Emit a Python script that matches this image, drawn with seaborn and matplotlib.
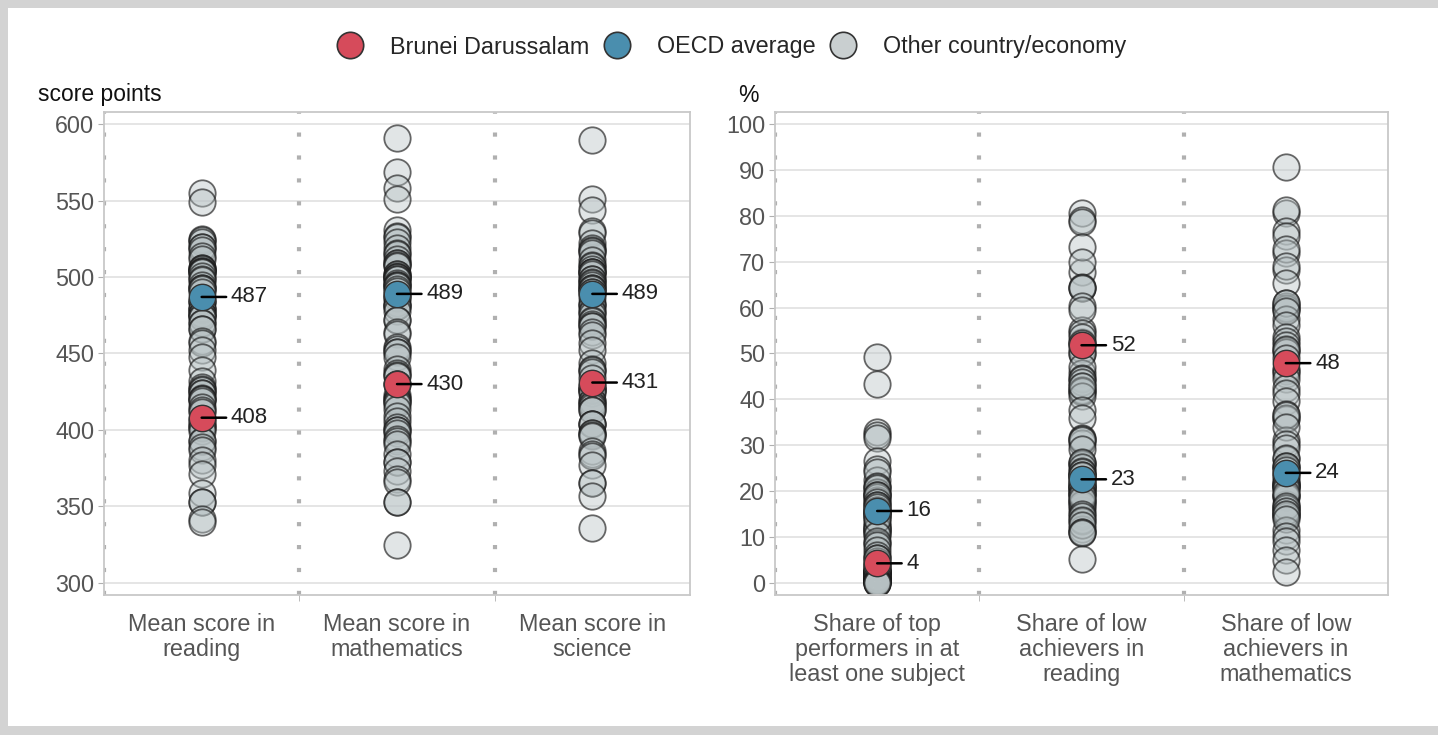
import matplotlib
matplotlib.use("Agg")
import matplotlib.pyplot as plt
from matplotlib.lines import Line2D
from matplotlib.patches import Rectangle
import seaborn as sns
import pandas as pd

# categories
score_cats = ['Mean score in\nreading', 'Mean score in\nmathematics', 'Mean score in\nscience']
share_cats = ['Share of top\nperformers in at\nleast one subject', 'Share of low\nachievers in\nreading',
              'Share of low\nachievers in\nmathematics']

# other countries / economies
reading = [555, 549, 525, 524, 523, 520, 520, 518, 514, 512, 506, 506, 505, 504, 504, 503, 503, 501, 499, 498,
           495, 493, 493, 492, 490, 485, 484, 484, 479, 479, 479, 476, 476, 476, 474, 474, 470, 470, 466, 466,
           458, 457, 452, 448, 439, 432, 428, 427, 426, 424, 424, 421, 420, 420, 419, 415, 413, 412, 407, 405,
           403, 402, 401, 399, 393, 393, 389, 387, 380, 377, 371, 359, 353, 353, 342, 340]
maths = [591, 569, 558, 551, 531, 527, 526, 523, 519, 516, 515, 512, 509, 509, 508, 507, 502, 502, 501, 500,
         500, 499, 499, 496, 495, 495, 494, 492, 491, 488, 487, 486, 483, 481, 481, 481, 478, 472, 472, 464,
         463, 454, 453, 451, 451, 448, 440, 437, 436, 435, 430, 430, 423, 421, 420, 419, 418, 417, 414, 409,
         406, 402, 400, 400, 398, 394, 393, 391, 384, 379, 379, 373, 368, 366, 353, 353, 325]
science = [590, 551, 544, 530, 529, 522, 519, 518, 517, 516, 511, 508, 507, 505, 503, 503, 503, 502, 499, 499,
           497, 496, 495, 493, 493, 492, 490, 490, 487, 483, 482, 481, 478, 477, 475, 472, 471, 469, 468, 468,
           464, 462, 457, 452, 444, 440, 439, 438, 434, 429, 428, 426, 426, 426, 424, 419, 419, 417, 416, 415,
           413, 413, 404, 404, 404, 398, 398, 397, 396, 386, 384, 383, 377, 365, 365, 357, 336]
top_perf = [49.3, 43.3, 32.8, 32.3, 31.7, 26.6, 24.8, 22.5, 24.1, 21.0, 19.4, 21.2, 19.9, 20.8, 19.2, 18.2,
            18.7, 19.1, 17.6, 15.9, 15.4, 16.9, 17.1, 15.9, 15.5, 16.6, 14.8, 14.8, 15.0, 13.9, 12.6, 11.3,
            11.5, 11.8, 12.6, 10.7, 11.7, 13.9, 10.5, 8.7, 9.1, 8.3, 7.1, 6.2, 5.5, 4.8, 4.0, 3.5, 4.0, 5.4,
            2.4, 2.1, 2.2, 2.3, 2.9, 2.1, 2.4, 2.9, 2.5, 0.9, 1.1, 1.0, 1.6, 0.3, 0.6, 1.4, 2.6, 1.2, 1.4,
            0.4, 0.6, 0.5, 0.1, 0.0, 0.2, 0.1]
low_read = [80.7, 79.1, 78.7, 67.8, 73.3, 69.9, 64.3, 64.4, 64.2, 60.4, 55.1, 59.5, 52.4, 54.4, 52.1, 53.7,
            52.2, 50.9, 49.9, 50.0, 45.8, 41.6, 47.1, 44.7, 44.4, 43.0, 43.7, 42.0, 41.9, 40.8, 42.9, 37.7,
            35.9, 31.7, 30.5, 31.4, 31.1, 29.3, 25.9, 26.1, 26.4, 23.4, 25.3, 24.4, 23.3, 22.1, 22.4, 21.6,
            24.1, 23.6, 23.6, 20.7, 20.2, 21.3, 20.9, 17.9, 19.3, 20.7, 16.0, 19.6, 16.8, 17.8, 19.3, 17.3,
            19.0, 18.4, 15.1, 14.7, 11.8, 13.5, 13.8, 11.1, 12.6, 11.2, 10.8, 5.2]
low_math = [90.6, 80.7, 81.2, 76.6, 75.6, 71.9, 72.7, 68.1, 69.0, 65.4, 60.3, 59.8, 60.0, 61.0, 61.1, 57.6,
            59.3, 56.2, 53.7, 52.7, 51.9, 50.7, 50.3, 50.9, 49.1, 46.6, 46.2, 45.5, 44.4, 42.4, 41.5, 39.7,
            36.9, 35.8, 35.9, 36.7, 31.2, 34.1, 30.2, 29.4, 27.1, 27.2, 25.1, 25.6, 25.6, 24.7, 23.8, 21.6,
            22.4, 23.3, 21.3, 21.1, 21.8, 20.7, 21.1, 20.4, 17.3, 18.9, 18.8, 19.2, 19.7, 15.7, 16.4, 16.3,
            15.0, 14.7, 14.6, 16.8, 15.8, 15.0, 11.5, 14.0, 10.2, 9.2, 7.1, 5.0, 2.4]

brunei_scores = [408, 430, 431]
oecd_scores = [487, 489, 489]
brunei_shares = [4.3, 51.8, 47.9]
oecd_shares = [15.7, 22.6, 24.0]

RED = '#d64b5b'
BLUE = '#4a8eae'
GREY = '#c9cfd0'

sns.set_style('white')
plt.rcParams['font.family'] = ['Liberation Sans', 'DejaVu Sans']

fig = plt.figure(figsize=(14.38, 7.35), dpi=100)
fig.patch.set_facecolor('#d3d3d3')
fig.patches.append(Rectangle((8 / 1438, 9 / 735), 1, 1 - 17 / 735, transform=fig.transFigure,
                             facecolor='white', edgecolor='none', zorder=-1))

ax1 = fig.add_axes([104 / 1438, 1 - 595 / 735, 586 / 1438, 483 / 735])
ax2 = fig.add_axes([775 / 1438, 1 - 595 / 735, 613 / 1438, 483 / 735])

MS = 19


def long_df(cats, series):
    rows = []
    for c, vals in zip(cats, series):
        rows += [(c, v) for v in vals]
    return pd.DataFrame(rows, columns=['cat', 'value'])


def panel(ax, cats, others, brunei, oecd, ylim, yticks):
    df = long_df(cats, others)
    n0 = len(ax.collections)
    sns.stripplot(data=df, x='cat', y='value', order=cats, jitter=False, size=MS,
                  color=GREY, edgecolor='#222222', linewidth=1.3, ax=ax, zorder=2)
    # translucent fill, darker outline for the crowd
    for pc in ax.collections[n0:]:
        pc.set_alpha(None)
        pc.set_facecolor((0.72, 0.76, 0.77, 0.42))
        pc.set_edgecolor((0.1, 0.1, 0.1, 0.65))

    for vals, col in [(oecd, BLUE), (brunei, RED)]:
        d = pd.DataFrame({'cat': cats, 'value': vals})
        sns.stripplot(data=d, x='cat', y='value', order=cats, jitter=False, size=MS,
                      color=col, edgecolor='#333333', linewidth=1.0, ax=ax, zorder=3)
        for i, v in enumerate(vals):
            ax.annotate(f'{v:.0f}', xy=(i, v), xytext=(21, 0), textcoords='offset points',
                        va='center', ha='left', fontsize=16, color='#222222', zorder=6,
                        arrowprops=dict(arrowstyle='-', color='black', lw=1.8,
                                        shrinkA=1, shrinkB=0))

    ax.set_xlim(-0.5, 2.5)
    ax.set_ylim(*ylim)
    ax.set_yticks(yticks)
    ax.grid(axis='y', color='#e3e3e3', lw=1.3)
    ax.set_axisbelow(True)
    for x in [-0.5, 0.5, 1.5]:
        ax.axvline(x, color='#b0b0b0', lw=3, ls=(0, (1, 4.5)), zorder=1)
    for s in ax.spines.values():
        s.set_color('#c8c8c8')
        s.set_linewidth(1.3)
    ax.set_xlabel('')
    ax.set_ylabel('')
    ax.set_xticks([0, 1, 2])
    ax.set_xticklabels(cats, fontsize=16.8, color='#555555', linespacing=1.12)
    ax.set_xticks([0.5, 1.5], minor=True)
    ax.tick_params(axis='x', which='major', length=0, pad=13)
    ax.tick_params(axis='x', which='minor', length=4, color='#b0b0b0', bottom=True)
    ax.tick_params(axis='y', length=4, color='#b0b0b0', labelsize=16.8, labelcolor='#555555',
                   left=True, pad=3)


panel(ax1, score_cats, [reading, maths, science], brunei_scores, oecd_scores,
      (292, 608), range(300, 601, 50))
panel(ax2, share_cats, [top_perf, low_read, low_math], brunei_shares, oecd_shares,
      (-2.6, 102.6), range(0, 101, 10))

fig.text(38 / 1438, 1 - 95 / 735, 'score points', fontsize=16.5, color='#111111', va='center')
fig.text(738 / 1438, 1 - 95 / 735, '%', fontsize=16.5, color='#111111', va='center')

handles = [Line2D([], [], ls='', marker='o', markersize=MS, markerfacecolor=c, markeredgecolor='#333333',
                  markeredgewidth=1.2) for c in [RED, BLUE, GREY]]
fig.legend(handles, ['Brunei Darussalam', 'OECD average', 'Other country/economy'],
           loc='center', bbox_to_anchor=(731 / 1438, 1 - 47 / 735), ncol=3, frameon=False,
           fontsize=16.8, handletextpad=1.1, columnspacing=0.6, handlelength=1.2)

fig.savefig('out.png', dpi=100, facecolor=fig.get_facecolor())
